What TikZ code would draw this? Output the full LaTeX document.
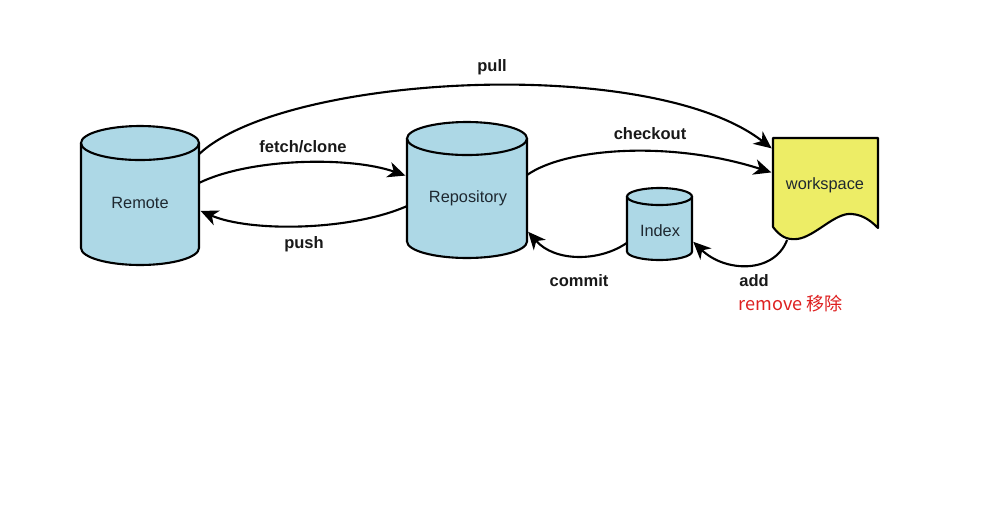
\documentclass[tikz,border=0pt]{standalone}
\usepackage{fontspec}
\setmainfont{Liberation Sans}
\newfontfamily\cjkfont{Noto Sans CJK SC}
\usetikzlibrary{arrows.meta,backgrounds}

\definecolor{dbblue}{RGB}{173,216,230}
\definecolor{wsyellow}{RGB}{237,237,102}
\definecolor{remred}{RGB}{222,32,32}
\definecolor{inktext}{RGB}{30,40,48}

\tikzset{
  box/.style={draw=none, rectangle, inner sep=0pt, outer sep=0pt},
  outline/.style={draw=black, line width=1.2pt},
  storename/.style={font=\fontsize{9.3}{11}\selectfont, text=inktext, inner sep=0pt},
  op/.style={font=\bfseries\fontsize{9.4}{11}\selectfont, text=black!90, inner sep=0pt},
  note/.style={font=\cjkfont\fontsize{10.3}{12}\selectfont, text=remred, inner sep=0pt},
  flow/.style={line width=1.2pt, shorten >=1pt, -{Stealth[length=10pt,width=9pt,inset=3pt]}},
}

% cylinder drawn inside a named box: #1 box name, #2 x radius (cm), #3 y radius (cm)
\newcommand\drawdb[3]{%
  \fill[dbblue] ([yshift=-#3cm]#1.north west) -- ([yshift=#3cm]#1.south west)
     arc[start angle=180,end angle=360,x radius=#2cm,y radius=#3cm]
     -- ([yshift=-#3cm]#1.north east)
     arc[start angle=0,end angle=180,x radius=#2cm,y radius=#3cm] -- cycle;
  \draw[outline] ([yshift=-#3cm]#1.north west) -- ([yshift=#3cm]#1.south west)
     arc[start angle=180,end angle=360,x radius=#2cm,y radius=#3cm]
     -- ([yshift=-#3cm]#1.north east);
  \draw[outline] ([yshift=-#3cm]#1.north) ellipse[x radius=#2cm,y radius=#3cm];
}

\begin{document}
\begin{tikzpicture}[x=0.02cm,y=-0.02cm]
  \useasboundingbox (0,0) rectangle (999,521);

  % storage boxes
  \node[box, minimum width=2.36cm, minimum height=2.78cm] (remote) at (140,195.5) {};
  \node[box, minimum width=2.4cm,  minimum height=2.72cm] (repo)   at (467,190) {};
  \node[box, minimum width=1.3cm,  minimum height=1.44cm] (index)  at (659.5,224) {};
  \node[box, minimum width=2.1cm,  minimum height=2.04cm] (ws)     at (825.5,189) {};

  \begin{scope}[on background layer]
    \fill[white] (0,0) rectangle (999,521);
    \drawdb{remote}{1.18}{0.34}
    \drawdb{repo}{1.2}{0.33}
    \drawdb{index}{0.65}{0.17}
    % workspace document with wavy lower edge
    \draw[outline, fill=wsyellow, line join=round]
      (773,138) -- (878,138) -- (878,228)
      .. controls (872,222) and (864,215) .. (852,214)
      .. controls (835,212) and (815,237) .. (797,239)
      .. controls (786,240) and (780,236) .. (773,227) -- cycle;
  \end{scope}

  % store names
  \node[storename] (remote-name) at (140,203) {Remote};
  \node[storename] (repo-name)   at (468,198) {Repository};
  \node[storename] (index-name)  at (660,231) {Index};
  \node[storename] (ws-name)     at (825,185) {workspace};

  % operations
  \draw[flow] (remote.35.8) .. controls +(85,-80) and +(-122,-95) .. (ws.143.4);
  \draw[flow] (remote.12.9) .. controls +(51,-25) and +(-57,-20) .. (repo.167.8);
  \draw[flow] (repo.195.8) .. controls +(-57,25) and +(51,22) .. (remote.346.2);
  \draw[flow] (repo.14) .. controls +(38,-27) and +(-103,-33) .. (ws.163.1);
  \draw[flow] (index.210.3) .. controls +(-27,19) and +(28,32) .. (repo.326.3);
  \draw[flow] (ws.233.5) .. controls +(-13,34) and +(33,32) .. (index.333.8);

  % operation labels
  \node[op] (pull-lbl)     at (492,67)  {pull};
  \node[op] (fetch-lbl)    at (303,147) {fetch/clone};
  \node[op] (push-lbl)     at (304,244) {push};
  \node[op] (checkout-lbl) at (650,134) {checkout};
  \node[op] (commit-lbl)   at (579,281) {commit};
  \node[op] (add-lbl)      at (754,281) {add};
  \node[note] (remove-lbl) at (791,304) {remove 移除};
\end{tikzpicture}
\end{document}
